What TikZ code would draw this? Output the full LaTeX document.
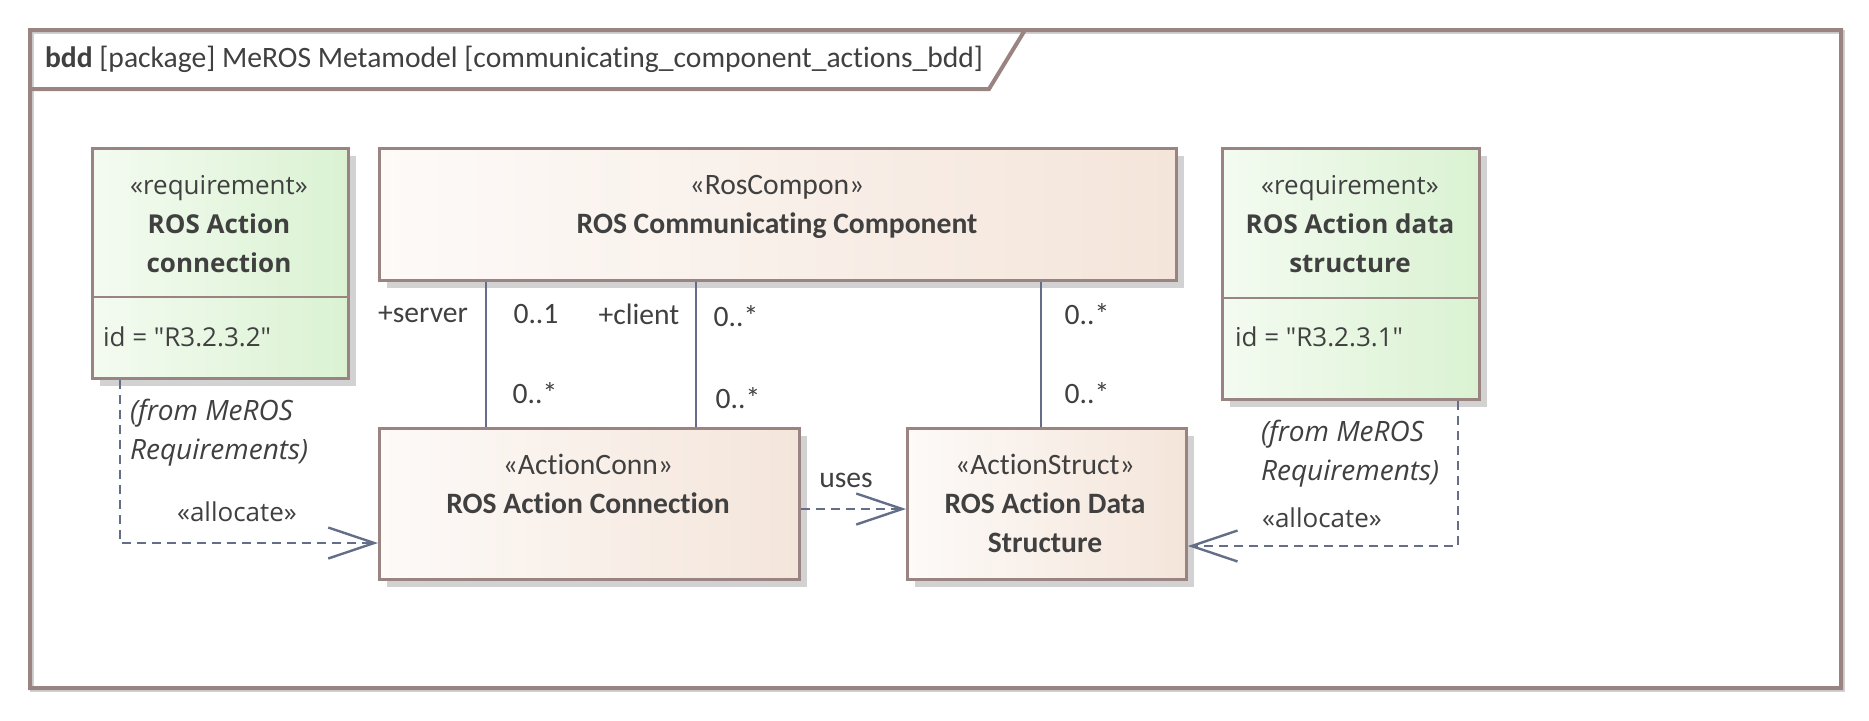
\documentclass[tikz,border=0pt]{standalone}
\usepackage{fontspec}
\setmainfont{Carlito}[Ligatures=NoCommon]
\newfontfamily\segoe{Open Sans}
\usetikzlibrary{arrows.meta,shadows}
\definecolor{edge}{HTML}{9A8482}
\definecolor{wire}{HTML}{646E88}
\definecolor{ink}{HTML}{404040}
\definecolor{blkL}{HTML}{FDFAF8}
\definecolor{blkR}{HTML}{F4E5DA}
\definecolor{reqL}{HTML}{F4FBF1}
\definecolor{reqR}{HTML}{DAF2D2}
\definecolor{shadowgray}{HTML}{D2D2D2}
\begin{document}
\begin{tikzpicture}[x=.5pt,y=-.5pt,font=\fontsize{14.8}{19.5}\selectfont,text=ink,
 box/.style 2 args={draw=edge,line width=1.4pt,anchor=north west,inner sep=0pt,minimum width=#1*.5pt,minimum height=#2*.5pt,
   drop shadow={shadow xshift=4pt,shadow yshift=-4pt,fill=shadowgray,opacity=1}},
 blk/.style={left color=blkL,right color=blkR},
 req/.style={left color=reqL,right color=reqR},
 seg/.style={font=\segoe\fontsize{13}{19.5}\selectfont},
 segit/.style={font=\segoe\itshape\fontsize{14}{19.5}\selectfont},
 assoc/.style={draw=wire,line width=1.2pt},
 dep/.style={draw=wire,line width=1.2pt,dash pattern=on 4.5pt off 3pt,-{Straight Barb[length=23pt,width=15.5pt]}}]
\useasboundingbox (0,0) rectangle (1869,720);
\draw[shadowgray,line width=2pt] (32,32) rectangle (1843,690);
\draw[edge,line width=2pt] (30,30) rectangle (1841,688) (30,89) -- (989,89) -- (1025,30);
\node[anchor=west,font=\fontsize{14.8}{19.5}\selectfont] (title) at (38,59) {\textbf{bdd} [package] MeROS Metamodel [communicating\_component\_actions\_bdd]};
\node[box={256}{230},req] (reqconn) at (91,147) {};
\node[box={797}{132},blk] (comp) at (378,147) {};
\node[box={420}{151},blk] (aconn) at (378,427) {};
\node[box={279}{151},blk] (astruct) at (906,427) {};
\node[box={257}{251},req] (reqstruct) at (1221,147) {};
\draw[edge,line width=1.4pt] (reqconn.west |- 0,297) -- (reqconn.east |- 0,297) (reqstruct.west |- 0,298) -- (reqstruct.east |- 0,298);
\path (219,224) node[seg,align=center] (reqconn-t) {«requirement»\\\textbf{ROS Action}\\\textbf{connection}}
 (96,337) node[seg,anchor=west] (reqconn-id) {id = "R3.2.3.2"}
 (777,207) node[align=center] (comp-t) {«RosCompon»\\\textbf{ROS Communicating Component}}
 (588,484) node[align=center] (aconn-t) {«ActionConn»\\\textbf{ROS Action Connection}}
 (1045,503) node[align=center] (astruct-t) {«ActionStruct»\\\textbf{ROS Action Data}\\\textbf{Structure}}
 (1350,224) node[seg,align=center] (reqstruct-t) {«requirement»\\\textbf{ROS Action data}\\\textbf{structure}}
 (1228,337) node[seg,anchor=west] (reqstruct-id) {id = "R3.2.3.1"};
\foreach \x/\b in {486/aconn,696/aconn,1041/astruct} \draw[assoc] (\x,0 |- comp.south) -- (\x,0 |- \b.north);
\path (423,314) node (srv) {+server} (536,314) node (srv-m) {0..1} (535,393) node (srv-n) {0..*}
 (639,314) node (cli) {+client} (736,316) node (cli-m) {0..*} (738,398) node (cli-n) {0..*}
 (1087,314) node (dat-m) {0..*} (1087,393) node (dat-n) {0..*};
\draw[dep] (aconn.east |- 0,509) -- (astruct.west |- 0,509);
\node (uses) at (846,480) {uses};
\draw[dep] (120,0 |- reqconn.south) |- (aconn.west |- 0,543);
\draw[dep] (1458,0 |- reqstruct.south) |- (astruct.east |- 0,546);
\path (123,433) node[segit,anchor=west,align=left] (reqconn-from) {(from MeROS\\Requirements)}
 (237,512) node[seg] (reqconn-alloc) {«allocate»}
 (1254,454) node[segit,anchor=west,align=left] (reqstruct-from) {(from MeROS\\Requirements)}
 (1255,518) node[seg,anchor=west] (reqstruct-alloc) {«allocate»};
\end{tikzpicture}
\end{document}
